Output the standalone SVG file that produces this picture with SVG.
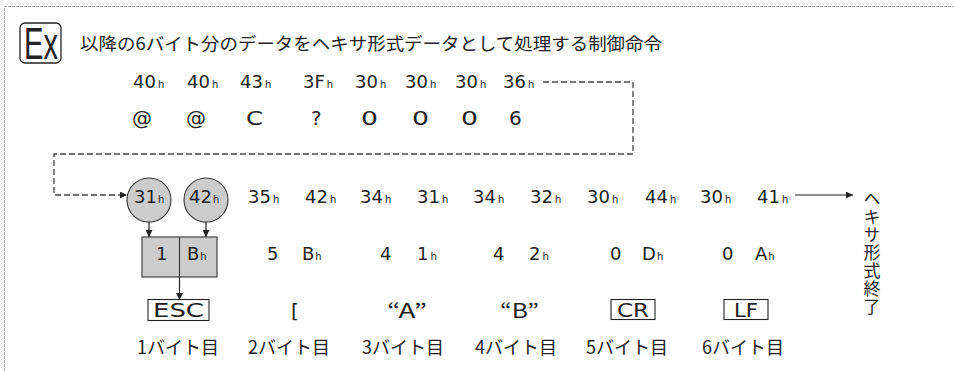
<svg xmlns="http://www.w3.org/2000/svg" width="954" height="371" viewBox="0 0 954 371">
<defs>
<style>
.t{font-family:"DejaVu Sans","Liberation Sans",sans-serif;font-size:18px;fill:#222}
.b{font-size:20px}
.d{font-size:19px}
.h{font-size:10px}
.jp{font-family:"Noto Sans CJK JP","DejaVu Sans",sans-serif;font-size:17.5px;fill:#222}
.lb{font-size:18px}
.dash{fill:none;stroke:#444;stroke-width:1.3;stroke-dasharray:6 3}
.ln{fill:none;stroke:#222;stroke-width:1.2}
.node{fill:#cccccc;stroke:#333;stroke-width:1.1}
.box{fill:#fff;stroke:#222;stroke-width:1.1}
</style>
<marker id="ah" viewBox="0 0 10 10" refX="10" refY="5" markerWidth="7" markerHeight="7" markerUnits="userSpaceOnUse" orient="auto"><path d="M0,0 L10,5 L0,10 z" fill="#222"/></marker>
</defs>
<rect width="954" height="371" fill="#fff"/>
<path d="M4.5,371 V6.5 H954" fill="none" stroke="#aaa" stroke-width="1" stroke-dasharray="3 1"/>

<g id="ex">
<rect x="20" y="23" width="41" height="40" rx="5" fill="none" stroke="#222" stroke-width="1.3"/>
<text x="24" y="59" font-family="Liberation Sans, sans-serif" font-size="45" fill="#222" textLength="34" lengthAdjust="spacingAndGlyphs">Ex</text>
</g>
<g id="title"><text class="jp" x="80" y="50" textLength="582" lengthAdjust="spacingAndGlyphs">以降の6バイト分のデータをヘキサ形式データとして処理する制御命令</text></g>

<g id="row-hex-top">
<text class="t" x="133" y="88">40<tspan class="h" dx="2">h</tspan></text>
<text class="t" x="187" y="88">40<tspan class="h" dx="2">h</tspan></text>
<text class="t" x="240" y="88">43<tspan class="h" dx="2">h</tspan></text>
<text class="t" x="303" y="88">3F<tspan class="h" dx="2">h</tspan></text>
<text class="t" x="355" y="88">30<tspan class="h" dx="2">h</tspan></text>
<text class="t" x="405" y="88">30<tspan class="h" dx="2">h</tspan></text>
<text class="t" x="455" y="88">30<tspan class="h" dx="2">h</tspan></text>
<text class="t" x="503" y="88">36<tspan class="h" dx="2">h</tspan></text>
</g>
<g id="row-char-top">
<text class="t b" x="132" y="125">@</text>
<text class="t b" x="186" y="125">@</text>
<text class="t b" x="246" y="125" textLength="17" lengthAdjust="spacingAndGlyphs">C</text>
<text class="t b" x="311" y="125">?</text>
<text class="t b" x="361" y="125" textLength="17" lengthAdjust="spacingAndGlyphs">0</text>
<text class="t b" x="412" y="125" textLength="17" lengthAdjust="spacingAndGlyphs">0</text>
<text class="t b" x="461" y="125" textLength="17" lengthAdjust="spacingAndGlyphs">0</text>
<text class="t b" x="509" y="125">6</text>
</g>

<g id="connectors">
<path class="dash" d="M543,82 H633 V154 H54 V195 H127" marker-end="url(#ah)"/>
<path class="ln" d="M795,195 H853" marker-end="url(#ah)"/>
<path class="ln" d="M149,222 V237" marker-end="url(#ah)"/>
<path class="ln" d="M206,222 V237" marker-end="url(#ah)"/>
<path class="ln" d="M179.5,277 V300" marker-end="url(#ah)"/>
</g>

<g id="node-31">
<circle class="node" cx="149" cy="200" r="22"/>
<text class="t" x="134" y="203">31<tspan class="h" dx="1">h</tspan></text>
</g>
<g id="node-42">
<circle class="node" cx="206" cy="200" r="22"/>
<text class="t" x="189" y="203">42<tspan class="h" dx="1">h</tspan></text>
</g>
<g id="row-hex-main">
<text class="t" x="248" y="203">35<tspan class="h" dx="2">h</tspan></text>
<text class="t" x="305" y="203">42<tspan class="h" dx="2">h</tspan></text>
<text class="t" x="360" y="203">34<tspan class="h" dx="2">h</tspan></text>
<text class="t" x="417" y="203">31<tspan class="h" dx="2">h</tspan></text>
<text class="t" x="473" y="203">34<tspan class="h" dx="2">h</tspan></text>
<text class="t" x="530" y="203">32<tspan class="h" dx="2">h</tspan></text>
<text class="t" x="587" y="203">30<tspan class="h" dx="2">h</tspan></text>
<text class="t" x="645" y="203">44<tspan class="h" dx="2">h</tspan></text>
<text class="t" x="700" y="203">30<tspan class="h" dx="2">h</tspan></text>
<text class="t" x="757" y="203">41<tspan class="h" dx="2">h</tspan></text>
</g>
<g id="node-esc-byte">
<rect class="node" x="142" y="237" width="75" height="40"/>
<line x1="179.5" y1="237" x2="179.5" y2="277" stroke="#333" stroke-width="1.1"/>
<text class="t" x="156" y="260">1</text>
<text class="t" x="187" y="260">B<tspan class="h" dx="1">h</tspan></text>
</g>
<g id="row-nibble">
<text class="t" x="267" y="260">5</text>
<text class="t" x="302" y="260">B<tspan class="h" dx="1">h</tspan></text>
<text class="t" x="380" y="260">4</text>
<text class="t" x="417" y="260">1<tspan class="h" dx="2">h</tspan></text>
<text class="t" x="493" y="260">4</text>
<text class="t" x="529" y="260">2<tspan class="h" dx="2">h</tspan></text>
<text class="t" x="610" y="260">0</text>
<text class="t" x="642" y="260">D<tspan class="h" dx="1">h</tspan></text>
<text class="t" x="722" y="260">0</text>
<text class="t" x="755" y="260">A<tspan class="h" dx="1">h</tspan></text>
</g>
<g id="node-esc"><rect class="box" x="148" y="299.5" width="61" height="21"/><text class="t d" x="153" y="317" textLength="51" lengthAdjust="spacingAndGlyphs">ESC</text></g>
<g id="node-bracket"><text class="t b" x="291" y="318">[</text></g>
<g id="node-a"><text class="jp" style="font-size:20px" x="387" y="318" textLength="40" lengthAdjust="spacingAndGlyphs">“A”</text></g>
<g id="node-b"><text class="jp" style="font-size:20px" x="500" y="318" textLength="39" lengthAdjust="spacingAndGlyphs">“B”</text></g>
<g id="node-cr"><rect class="box" x="611" y="299.5" width="44" height="20"/><text class="t d" x="617" y="316.5" textLength="32" lengthAdjust="spacingAndGlyphs">CR</text></g>
<g id="node-lf"><rect class="box" x="724" y="299.5" width="44" height="20"/><text class="t d" x="734" y="316.5" textLength="24" lengthAdjust="spacingAndGlyphs">LF</text></g>
<g id="labels">
<text class="jp lb" x="137" y="354">1バイト目</text>
<text class="jp lb" x="248" y="354">2バイト目</text>
<text class="jp lb" x="362" y="354">3バイト目</text>
<text class="jp lb" x="475" y="354">4バイト目</text>
<text class="jp lb" x="586" y="354">5バイト目</text>
<text class="jp lb" x="702" y="354">6バイト目</text>
</g>
<g id="hex-end"><text class="jp" x="872" y="190" style="writing-mode:vertical-rl;font-size:17px" letter-spacing="1">ヘキサ形式終了</text></g>
</svg>
